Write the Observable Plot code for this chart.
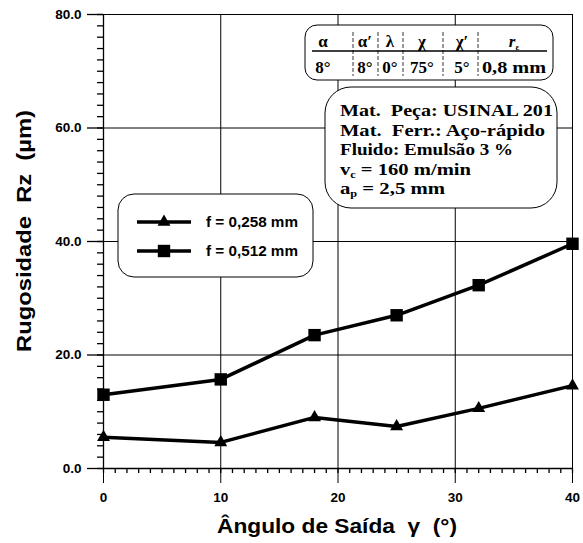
<!DOCTYPE html>
<html>
<head>
<meta charset="utf-8">
<script src="https://cdn.jsdelivr.net/npm/d3@7"></script>
<script src="https://cdn.jsdelivr.net/npm/@observablehq/plot@0.6"></script>
<style>
  html, body { margin: 0; padding: 0; background: white; }
  svg { display: block; }
</style>
</head>
<body>
<script>
// Data
const angles = [0, 10, 18, 25, 32, 40];
const rzF0258 = [5.5, 4.6, 9.0, 7.4, 10.6, 14.6];
const rzF0512 = [13.0, 15.7, 23.5, 27.0, 32.3, 39.6];
const seriesNames = ["f = 0,258 mm", "f = 0,512 mm"];
const xTicks = [0, 10, 20, 30, 40];
const yTicks = [0, 20, 40, 60, 80];
const tableHeaders = ["α", "α′", "λ", "χ", "χ′", "r"];
const tableValues = ["8°", "8°", "0°", "75°", "5°", "0,8 mm"];
const infoLines = ["Mat.  Peça: USINAL 201", "Mat.  Ferr.: Aço-rápido", "Fluido: Emulsão 3 %"];

const rows = [];
angles.forEach((a, i) => {
  rows.push({angle: a, rz: rzF0258[i], s: seriesNames[0]});
  rows.push({angle: a, rz: rzF0512[i], s: seriesNames[1]});
});
const s1 = rows.filter(d => d.s === seriesNames[0]);
const s2 = rows.filter(d => d.s === seriesNames[1]);

const svg = Plot.plot({
  width: 583,
  height: 543,
  marginLeft: 103,
  marginRight: 11,
  marginTop: 14,
  marginBottom: 75,
  x: {domain: [0, 40]},
  y: {domain: [0, 80]},
  style: {fontFamily: "Liberation Sans, Arial, sans-serif", fontWeight: "bold", fontSize: "12px", color: "black", background: "white"},
  marks: [
    Plot.gridX([10, 20, 30, 40], {stroke: "black", strokeOpacity: 1, strokeWidth: 1}),
    Plot.gridY([20, 40, 60, 80], {stroke: "black", strokeOpacity: 1, strokeWidth: 1}),
    Plot.ruleX([0], {stroke: "black", strokeWidth: 1.3}),
    Plot.ruleY([0], {stroke: "black", strokeWidth: 1.3}),
    Plot.axisY({ticks: d3.range(0, 81, 2), tickSize: 6, tickFormat: () => "", label: null, strokeWidth: 1.3}),
    Plot.axisY({ticks: yTicks, tickSize: 16, tickPadding: 6, tickFormat: d => d.toFixed(1), label: null, strokeWidth: 1.3, fontSize: 13.5}),
    Plot.axisX({ticks: d3.range(0, 41, 1), tickSize: 5, tickFormat: () => "", label: null, strokeWidth: 1.3}),
    Plot.axisX({ticks: xTicks, tickSize: 15, tickPadding: 9, label: null, strokeWidth: 1, fontSize: 13.5}),
    Plot.line(s1, {x: "angle", y: "rz", stroke: "black", strokeWidth: 3.5}),
    Plot.line(s2, {x: "angle", y: "rz", stroke: "black", strokeWidth: 3.5}),
    Plot.dot(s1, {x: "angle", y: "rz", symbol: "triangle", r: 4.8, fill: "black", stroke: "none"}),
    Plot.dot(s2, {x: "angle", y: "rz", symbol: "square", r: 7, fill: "black", stroke: "none"})
  ]
});
document.body.appendChild(svg);

const g = d3.select(svg).append("g").attr("text-anchor", "start");

// Axis titles
g.append("text")
  .attr("transform", "translate(31,231) rotate(-90)")
  .attr("text-anchor", "middle")
  .style("font", "bold 20px 'Liberation Sans', Arial, sans-serif")
  .attr("xml:space", "preserve")
  .attr("textLength", 242).attr("lengthAdjust", "spacingAndGlyphs")
  .text("Rugosidade  Rz  (µm)");
g.append("text")
  .attr("x", 337).attr("y", 533)
  .attr("text-anchor", "middle")
  .style("font", "bold 21px 'Liberation Sans', Arial, sans-serif")
  .attr("xml:space", "preserve")
  .attr("textLength", 240).attr("lengthAdjust", "spacingAndGlyphs")
  .text("Ângulo de Saída  γ  (°)");

// Legend box
g.append("rect").attr("x", 118).attr("y", 194).attr("width", 195).attr("height", 83)
  .attr("rx", 16).attr("fill", "white").attr("stroke", "black").attr("stroke-width", 1);
const legYs = [222, 251];
const legSym = [d3.symbolTriangle, d3.symbolSquare];
const legSize = [Math.PI * 4.8 * 4.8, Math.PI * 7 * 7];
legYs.forEach((y, i) => {
  g.append("line").attr("x1", 137).attr("x2", 191).attr("y1", y).attr("y2", y)
    .attr("stroke", "black").attr("stroke-width", 3.5);
  g.append("path").attr("d", d3.symbol(legSym[i], legSize[i])())
    .attr("transform", `translate(164,${y})`).attr("fill", "black");
  g.append("text").attr("x", 206).attr("y", y + 5).attr("text-anchor", "start")
    .style("font", "bold 14.5px 'Liberation Sans', Arial, sans-serif")
    .attr("textLength", 92).attr("lengthAdjust", "spacingAndGlyphs")
    .text(seriesNames[i]);
});

// Parameter table box
g.append("rect").attr("x", 305).attr("y", 25).attr("width", 248).attr("height", 55)
  .attr("rx", 12).attr("fill", "white").attr("stroke", "black").attr("stroke-width", 1);
g.append("line").attr("x1", 312).attr("x2", 547).attr("y1", 51).attr("y2", 51)
  .attr("stroke", "black").attr("stroke-width", 1.5);
[353, 378, 403, 443, 478].forEach(x => {
  g.append("line").attr("x1", x).attr("x2", x).attr("y1", 32).attr("y2", 76)
    .attr("stroke", "black").attr("stroke-width", 0.8).attr("stroke-dasharray", "4,2");
});
const colX = [323, 365, 390, 422, 462, 514];
const serif = "'Liberation Serif', 'Times New Roman', serif";
tableHeaders.forEach((h, i) => {
  const t = g.append("text").attr("x", colX[i]).attr("y", 47).attr("text-anchor", "middle")
    .style("font", `bold 17px ${serif}`);
  if (h === "r") {
    t.append("tspan").style("font-style", "italic").text("r");
    t.append("tspan").attr("dy", 3).style("font-size", "9px").text("ε");
  } else {
    t.text(h);
  }
});
tableValues.forEach((v, i) => {
  const t = g.append("text").attr("x", colX[i]).attr("y", 73).attr("text-anchor", "middle")
    .style("font", `bold 17px ${serif}`);
  if (i === 5) t.attr("textLength", 64).attr("lengthAdjust", "spacingAndGlyphs");
  t.text(v);
});

// Info box
g.append("rect").attr("x", 325).attr("y", 87).attr("width", 232).attr("height", 121)
  .attr("rx", 26).attr("fill", "white").attr("stroke", "black").attr("stroke-width", 1);
const infoY = [116, 136, 155, 175, 194];
const infoLen = [213, 205, 173];
infoLines.forEach((l, i) => {
  g.append("text").attr("x", 340).attr("y", infoY[i]).attr("text-anchor", "start")
    .attr("xml:space", "preserve")
    .attr("textLength", infoLen[i]).attr("lengthAdjust", "spacingAndGlyphs")
    .style("font", `bold 17px ${serif}`).text(l);
});
const t4 = g.append("text").attr("x", 340).attr("y", infoY[3]).attr("text-anchor", "start")
  .attr("xml:space", "preserve").style("font", `bold 17px ${serif}`)
  .attr("textLength", 131).attr("lengthAdjust", "spacingAndGlyphs");
t4.append("tspan").text("v");
t4.append("tspan").attr("dy", 3).style("font-size", "10px").text("c");
t4.append("tspan").attr("dy", -3).text(" = 160 m/min");
const t5 = g.append("text").attr("x", 340).attr("y", infoY[4]).attr("text-anchor", "start")
  .attr("xml:space", "preserve").style("font", `bold 17px ${serif}`)
  .attr("textLength", 105).attr("lengthAdjust", "spacingAndGlyphs");
t5.append("tspan").text("a");
t5.append("tspan").attr("dy", 3).style("font-size", "10px").text("p");
t5.append("tspan").attr("dy", -3).text(" = 2,5 mm");
</script>
</body>
</html>
